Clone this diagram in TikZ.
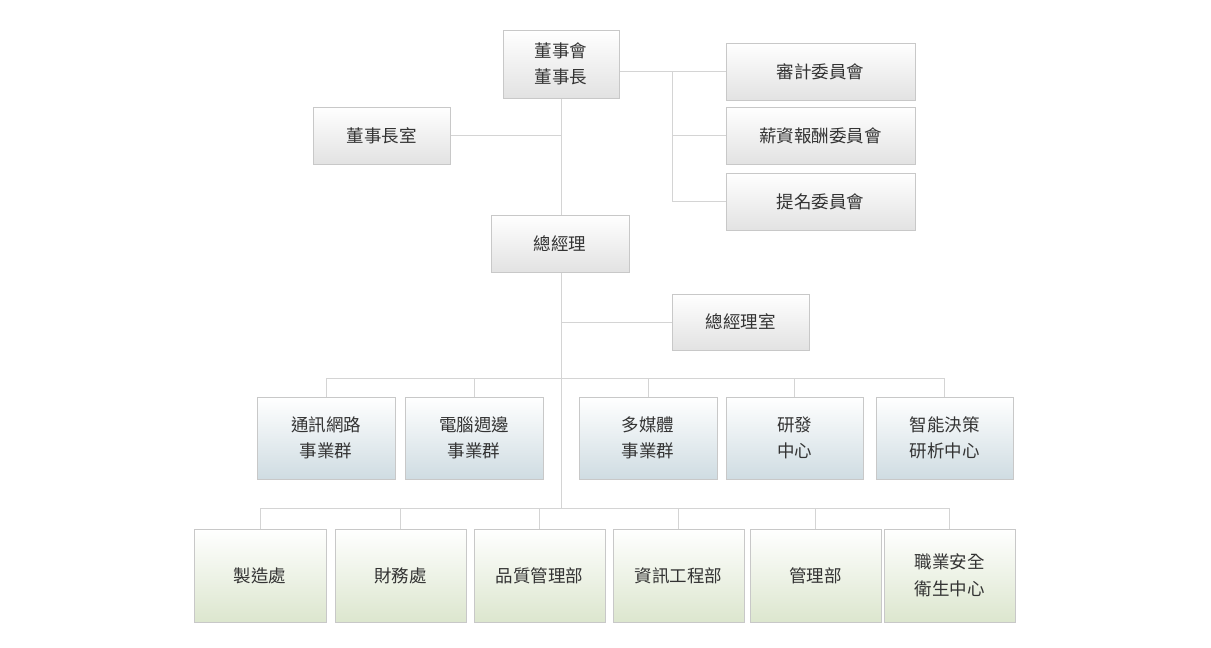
\documentclass[tikz,border=0pt]{standalone}
\usepackage{fontspec}
\setmainfont{Noto Sans CJK TC}
\begin{document}
\begin{tikzpicture}[x=1pt,y=-1pt,
  every node/.style={font=\fontsize{17.5}{26.5}\selectfont, text=txt, align=center, inner sep=0pt},
  basebox/.style={draw=boxline, line width=1pt, rectangle},
  graybox/.style={basebox, top color=white, middle color=white, bottom color=grayend},
  bluebox/.style={basebox, top color=white, middle color=white, bottom color=blueend},
  greenbox/.style={basebox, top color=white, middle color=white, bottom color=greenend},
  lowtext/.style={text depth=-2pt},
  conn/.style={draw=linecol, line width=1pt}]
\definecolor{txt}{HTML}{333333}
\definecolor{boxline}{HTML}{C8C8C8}
\definecolor{linecol}{HTML}{D4D4D4}
\definecolor{grayend}{HTML}{E2E2E2}
\definecolor{blueend}{HTML}{CFDCE2}
\definecolor{greenend}{HTML}{DCE6CE}
\useasboundingbox[fill=white] (0,0) rectangle (1211,648);

% top level
\node[graybox, minimum width=116, minimum height=68] (board) at (561,64) {董事會\\董事長};
\node[graybox, minimum width=137, minimum height=57] (chair) at (381.5,135.5) {董事長室};
\node[graybox, minimum width=189, minimum height=57] (audit) at (820.5,71.5) {審計委員會};
\node[graybox, minimum width=189, minimum height=57] (salary) at (820.5,135.5) {薪資報酬委員會};
\node[graybox, minimum width=189, minimum height=57] (nomin) at (820.5,201.5) {提名委員會};
\node[graybox, minimum width=138, minimum height=57] (gm) at (560,243.5) {總經理};
\node[graybox, minimum width=137, minimum height=56] (gmo) at (740.5,322) {總經理室};

% middle row
\node[bluebox, minimum width=138, minimum height=82] (a1) at (326,438) {通訊網路\\事業群};
\node[bluebox, minimum width=138, minimum height=82] (a2) at (474,438) {電腦週邊\\事業群};
\node[bluebox, minimum width=138, minimum height=82] (a3) at (648,438) {多媒體\\事業群};
\node[bluebox, minimum width=137, minimum height=82] (a4) at (794.5,438) {研發\\中心};
\node[bluebox, minimum width=137, minimum height=82] (a5) at (944.5,438) {智能決策\\研析中心};

% bottom row
\node[greenbox, minimum width=132, minimum height=93] (b1) at (260,575.5) {製造處};
\node[greenbox, minimum width=131, minimum height=93] (b2) at (400.5,575.5) {財務處};
\node[greenbox, minimum width=131, minimum height=93] (b3) at (539.5,575.5) {品質管理部};
\node[greenbox, minimum width=131, minimum height=93] (b4) at (678.5,575.5) {資訊工程部};
\node[greenbox, minimum width=131, minimum height=93] (b5) at (815.5,575.5) {管理部};
\node[greenbox, minimum width=131, minimum height=93] (b6) at (949.5,575.5) {職業安全\\衛生中心};

% junction coordinates
\coordinate (cj) at (672,71.5);
\coordinate (midbus) at (561,378);
\coordinate (botbus) at (561,508);

% connectors
\draw[conn] (board.east |- audit.west) -- (audit.west);
\draw[conn] (cj) -- (cj |- nomin.west) -- (nomin.west);
\draw[conn] (cj |- salary.west) -- (salary.west);
\draw[conn] (chair.east) -- (chair.east -| board.south);
\draw[conn] (board.south) -- (board.south |- gm.north);
\draw[conn] (board.south |- gm.south) -- (botbus);
\draw[conn] (board.south |- gmo.west) -- (gmo.west);
\draw[conn] (a1.north |- midbus) -- (a5.north |- midbus);
\foreach \n in {a1,a2,a3,a4,a5} \draw[conn] (\n.north |- midbus) -- (\n.north);
\draw[conn] (b1.north |- botbus) -- (b6.north |- botbus);
\foreach \n in {b1,b2,b3,b4,b5,b6} \draw[conn] (\n.north |- botbus) -- (\n.north);
\end{tikzpicture}
\end{document}
